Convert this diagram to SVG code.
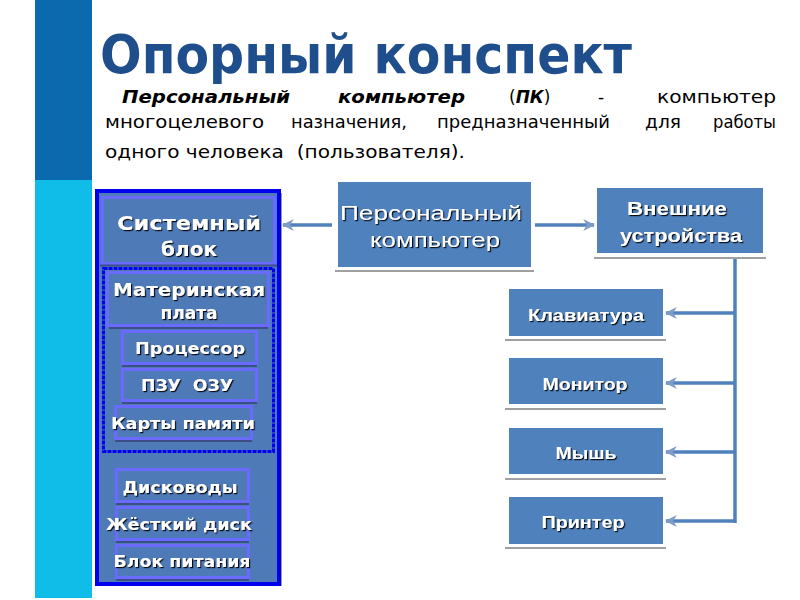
<svg xmlns="http://www.w3.org/2000/svg" width="800" height="600" viewBox="0 0 800 600">
<style>
.title{font-family:"DejaVu Sans",sans-serif;font-weight:bold;fill:#1f4e8c}
.para{font-family:"DejaVu Sans",sans-serif;font-size:17px;fill:#000}
.bi{font-weight:bold;font-style:italic}
.lp{font-family:"DejaVu Sans",sans-serif;font-weight:bold;fill:#fff;filter:url(#ts);text-anchor:middle}
.rb{font-family:"Liberation Sans",Arial,sans-serif;fill:#fff;filter:url(#ts);text-anchor:middle}
.box{fill:#4f81bd}
.inb{fill:#4f7ab8;stroke:#6a6aff;stroke-width:3}
.sep{stroke:#3b4f86;stroke-width:2}
.shl{stroke:#a0a0a0;stroke-width:2}
.conn{stroke:#4f81bd;stroke-width:3.5;fill:none}
</style>
<defs>
<filter id="ts" x="-10%" y="-20%" width="130%" height="150%">
<feDropShadow dx="1.2" dy="1.2" stdDeviation="0.3" flood-color="#000" flood-opacity="0.9"/>
</filter>
<marker id="ah" markerWidth="12" markerHeight="12" refX="9" refY="5" orient="auto" markerUnits="userSpaceOnUse" viewBox="0 0 10 10">
<path d="M0,0 L10,5 L0,10 L3,5 z" fill="#7f9cc8"/>
</marker>
</defs>

<!-- side stripe -->
<rect x="35" y="0" width="57" height="180" fill="#0b69ad"/>
<rect x="35" y="180" width="57" height="418" fill="#10bde9"/>

<!-- title & text -->
<text class="title" x="100" y="73" font-size="54" textLength="532" lengthAdjust="spacingAndGlyphs">Опорный конспект</text>
<text class="para" y="103"><tspan class="bi" x="122" textLength="168" lengthAdjust="spacingAndGlyphs">Персональный</tspan></text>
<text class="para" y="103"><tspan class="bi" x="338" textLength="127" lengthAdjust="spacingAndGlyphs">компьютер</tspan></text>
<text class="para" y="103" x="509">(<tspan class="bi">ПК</tspan>)</text>
<text class="para" y="103" x="598">-</text>
<text class="para" y="103" x="657" textLength="119" lengthAdjust="spacingAndGlyphs">компьютер</text>
<text class="para" y="128" x="105" textLength="159" lengthAdjust="spacingAndGlyphs">многоцелевого</text>
<text class="para" y="128" x="291" textLength="116" lengthAdjust="spacingAndGlyphs">назначения,</text>
<text class="para" y="128" x="437" textLength="173" lengthAdjust="spacingAndGlyphs">предназначенный</text>
<text class="para" y="128" x="645" textLength="36" lengthAdjust="spacingAndGlyphs">для</text>
<text class="para" y="128" x="713" textLength="63" lengthAdjust="spacingAndGlyphs">работы</text>
<text class="para" y="158" x="105" textLength="360" lengthAdjust="spacingAndGlyphs">одного человека&#160; (пользователя).</text>

<!-- left panel -->
<g id="system-unit">
<rect x="99" y="193" width="183" height="393" fill="#9a9a9a"/>
<rect x="97" y="191" width="182" height="393" fill="#4f7ab8" stroke="#0000ee" stroke-width="4"/>
<rect class="inb" x="102.5" y="197.5" width="172" height="66"/>
<line class="sep" x1="100" y1="265.5" x2="277" y2="265.5"/>
<text class="lp" x="189" y="230" font-size="20" textLength="144" lengthAdjust="spacingAndGlyphs">Системный</text>
<text class="lp" x="189" y="256" font-size="20">блок</text>
</g>
<g id="motherboard-group">
<rect x="103.5" y="268.5" width="170" height="183" fill="none" stroke="#0000ee" stroke-width="3" stroke-dasharray="4 1"/>
</g>
<g id="motherboard">
<rect class="inb" x="107.5" y="272.5" width="161" height="53"/>
<line class="sep" x1="109" y1="328" x2="268" y2="328"/>
<text class="lp" x="189" y="296" font-size="17" textLength="152" lengthAdjust="spacingAndGlyphs">Материнская</text>
<text class="lp" x="189" y="319" font-size="17">плата</text>
</g>
<g id="cpu">
<rect class="inb" x="122.5" y="331.5" width="134" height="32"/>
<line class="sep" x1="122" y1="366" x2="257" y2="366"/>
<text class="lp" x="190" y="354" font-size="15.5" textLength="110" lengthAdjust="spacingAndGlyphs">Процессор</text>
</g>
<g id="memory">
<rect class="inb" x="122.5" y="369.5" width="134" height="31"/>
<line class="sep" x1="122" y1="403" x2="257" y2="403"/>
<text class="lp" x="187" y="391" font-size="15.5" textLength="92" lengthAdjust="spacingAndGlyphs">ПЗУ&#160; ОЗУ</text>
</g>
<g id="memory-cards">
<rect class="inb" x="115.5" y="406.5" width="136" height="32"/>
<line class="sep" x1="115" y1="441" x2="252" y2="441"/>
<text class="lp" x="183" y="429" font-size="15.5" textLength="144" lengthAdjust="spacingAndGlyphs">Карты памяти</text>
</g>
<g id="drives">
<rect class="inb" x="116.5" y="469.5" width="132" height="32"/>
<line class="sep" x1="116" y1="504" x2="249" y2="504"/>
<text class="lp" x="180" y="493" font-size="15.5" textLength="115" lengthAdjust="spacingAndGlyphs">Дисководы</text>
</g>
<g id="hdd">
<rect class="inb" x="116.5" y="507.5" width="132" height="32"/>
<line class="sep" x1="116" y1="542" x2="249" y2="542"/>
<text class="lp" x="179" y="530" font-size="15.5" textLength="146" lengthAdjust="spacingAndGlyphs">Жёсткий диск</text>
</g>
<g id="psu">
<rect class="inb" x="116.5" y="545.5" width="132" height="32"/>
<line class="sep" x1="116" y1="580" x2="249" y2="580"/>
<text class="lp" x="182" y="567" font-size="15.5" textLength="137" lengthAdjust="spacingAndGlyphs">Блок питания</text>
</g>

<!-- right side nodes -->
<g id="pc">
<line class="shl" x1="335" y1="271" x2="534" y2="271"/>
<rect class="box" x="338" y="182" width="193" height="85"/>
<text class="rb" x="431" y="220" font-size="20" textLength="182" lengthAdjust="spacingAndGlyphs">Персональный</text>
<text class="rb" x="435" y="247" font-size="20" textLength="130" lengthAdjust="spacingAndGlyphs">компьютер</text>
</g>
<g id="external">
<line class="shl" x1="594" y1="258" x2="766" y2="258"/>
<rect class="box" x="597" y="188" width="166" height="65"/>
<text class="rb" x="677" y="215" font-size="18" font-weight="bold" textLength="100" lengthAdjust="spacingAndGlyphs">Внешние</text>
<text class="rb" x="681" y="242" font-size="18" font-weight="bold" textLength="122" lengthAdjust="spacingAndGlyphs">устройства</text>
</g>
<g id="keyboard">
<line class="shl" x1="505" y1="340" x2="666" y2="340"/>
<rect class="box" x="509" y="289" width="154" height="47"/>
<text class="rb" x="586" y="321" font-size="17" font-weight="bold" textLength="116" lengthAdjust="spacingAndGlyphs">Клавиатура</text>
</g>
<g id="monitor">
<line class="shl" x1="505" y1="409" x2="666" y2="409"/>
<rect class="box" x="509" y="358" width="154" height="46"/>
<text class="rb" x="585" y="390" font-size="17" font-weight="bold" textLength="85" lengthAdjust="spacingAndGlyphs">Монитор</text>
</g>
<g id="mouse">
<line class="shl" x1="505" y1="479" x2="666" y2="479"/>
<rect class="box" x="509" y="428" width="154" height="46"/>
<text class="rb" x="586" y="459" font-size="17" font-weight="bold" textLength="61" lengthAdjust="spacingAndGlyphs">Мышь</text>
</g>
<g id="printer">
<line class="shl" x1="505" y1="548" x2="666" y2="548"/>
<rect class="box" x="509" y="497" width="154" height="47"/>
<text class="rb" x="583" y="528" font-size="17" font-weight="bold" textLength="83" lengthAdjust="spacingAndGlyphs">Принтер</text>
</g>

<!-- connectors -->
<g id="connectors">
<line class="conn" x1="332" y1="225" x2="283" y2="225" marker-end="url(#ah)"/>
<line class="conn" x1="535" y1="225" x2="594" y2="225" marker-end="url(#ah)"/>
<line class="conn" x1="735" y1="259" x2="735" y2="523"/>
<line class="conn" x1="735" y1="313" x2="666" y2="313" marker-end="url(#ah)"/>
<line class="conn" x1="735" y1="383" x2="666" y2="383" marker-end="url(#ah)"/>
<line class="conn" x1="735" y1="452" x2="666" y2="452" marker-end="url(#ah)"/>
<line class="conn" x1="735" y1="521" x2="666" y2="521" marker-end="url(#ah)"/>
</g>
</svg>
